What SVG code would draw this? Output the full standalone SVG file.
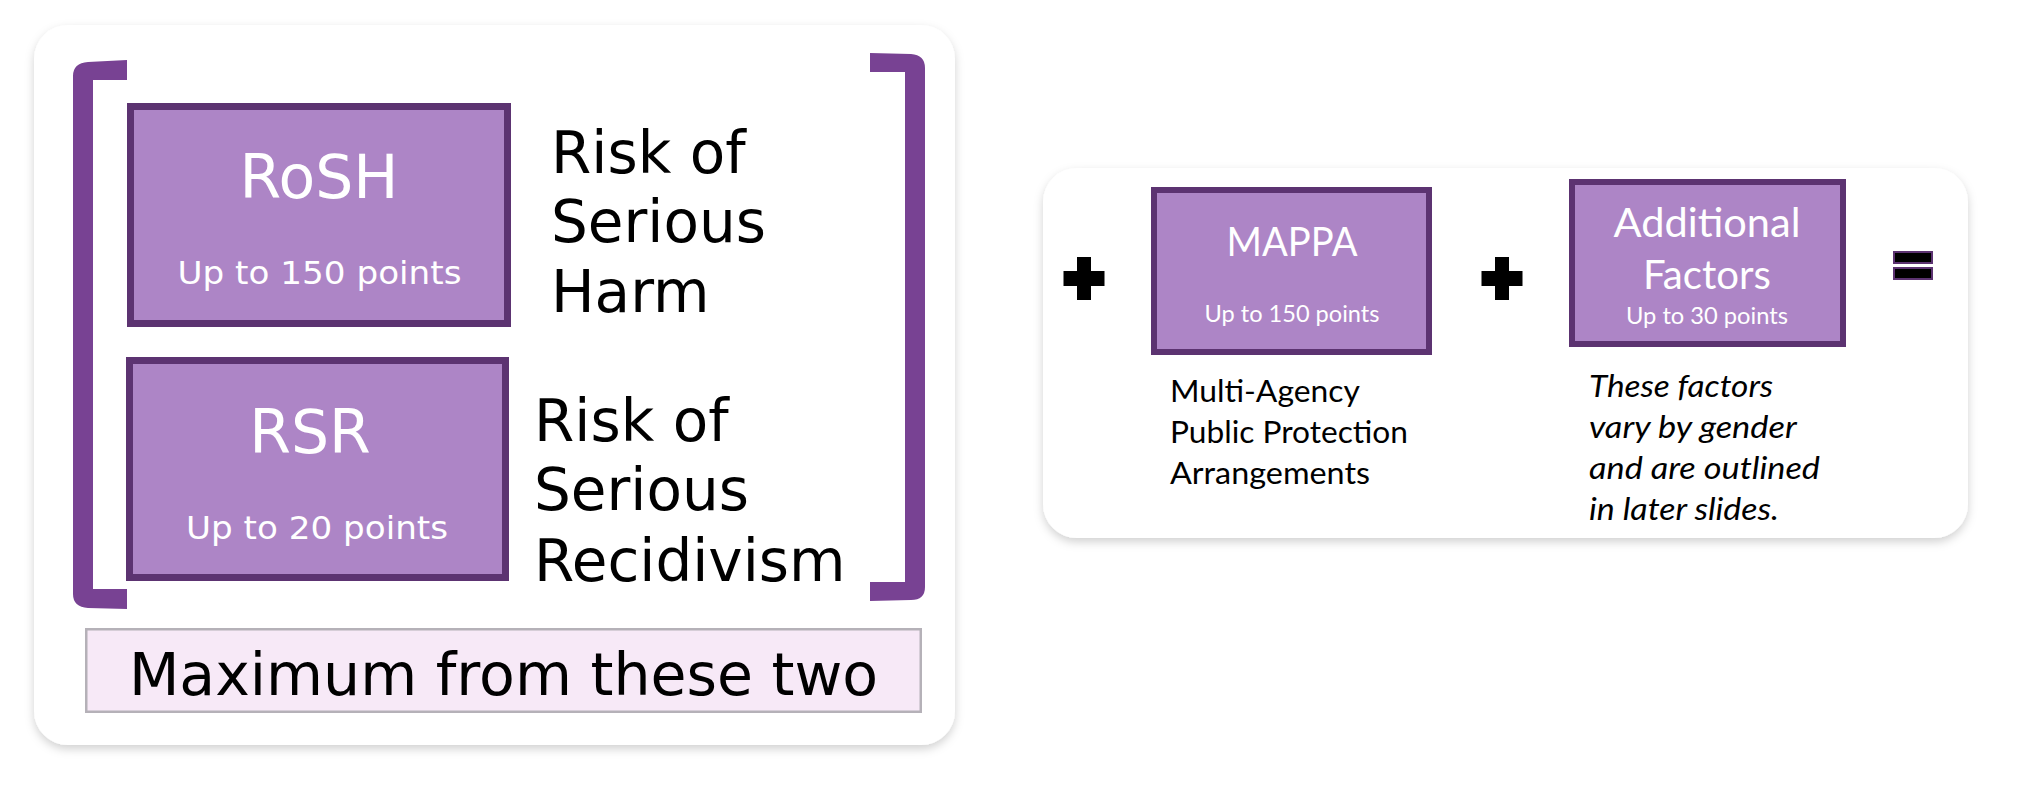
<svg xmlns="http://www.w3.org/2000/svg" width="2038" height="786" viewBox="0 0 2038 786">
  <defs>
    <filter id="cardShadow" x="-5%" y="-5%" width="110%" height="115%">
      <feDropShadow dx="0" dy="4" stdDeviation="5" flood-color="#000" flood-opacity="0.18"/>
    </filter>
    <path id="plus" d="M-20.5,-7.5 H-7 V-21.5 H7 V-7.5 H20.5 V7.5 H7 V21.5 H-7 V7.5 H-20.5 Z"/>
    <style>
      .card { fill: #ffffff; filter: url(#cardShadow); }
      .score { fill: #ad85c6; stroke: #5c3371; }
      .bracket { fill: #784293; }
      .maxbox { fill: #f7e9f7; stroke: #b5b1b8; stroke-width: 2.5; }
      .dv { font-family: "DejaVu Sans", Verdana, sans-serif; }
      .cal { font-family: Lato, "Liberation Sans", sans-serif; }
      .white { fill: #ffffff; }
      .black { fill: #000000; }
      .op { fill: #000000; }
    </style>
  </defs>

  <rect width="2038" height="786" fill="#ffffff"/>

  <!-- left panel: RoSH / RSR choice -->
  <g id="panel-left">
    <rect class="card" x="34" y="25" width="921" height="720" rx="34"/>
    <path class="bracket" d="M127,60 L127,80 L93,80 L93,589 L127,589 L127,609 L88,608 Q73,607 73,594 L73,76 Q73,63 88,62 Z"/>
    <path class="bracket" d="M870,53 L911,54 Q925,55 925,68 L925,587 Q925,600 911,600 L870,601 L870,582 L905,582 L905,72 L870,72 Z"/>
  </g>

  <g id="node-rosh">
    <rect class="score" x="130.5" y="106.5" width="377" height="217" stroke-width="7"/>
    <text class="dv white" x="319" y="198" font-size="60" text-anchor="middle">RoSH</text>
    <text class="dv white" x="319.5" y="284" font-size="32" text-anchor="middle" textLength="284" lengthAdjust="spacingAndGlyphs">Up to 150 points</text>
    <text class="dv black" font-size="58">
      <tspan x="551" y="173">Risk of</tspan>
      <tspan x="551" y="242">Serious</tspan>
      <tspan x="551" y="312">Harm</tspan>
    </text>
  </g>

  <g id="node-rsr">
    <rect class="score" x="129.5" y="360.5" width="376" height="217" stroke-width="7"/>
    <text class="dv white" x="310" y="453" font-size="60" text-anchor="middle">RSR</text>
    <text class="dv white" x="317" y="539" font-size="32" text-anchor="middle" textLength="262" lengthAdjust="spacingAndGlyphs">Up to 20 points</text>
    <text class="dv black" font-size="58">
      <tspan x="534" y="441">Risk of</tspan>
      <tspan x="534" y="510">Serious</tspan>
      <tspan x="534" y="581">Recidivism</tspan>
    </text>
  </g>

  <g id="node-maximum">
    <rect class="maxbox" x="86.25" y="629.25" width="834.5" height="82.5"/>
    <text class="dv black" x="503.5" y="695" font-size="58.5" text-anchor="middle">Maximum from these two</text>
  </g>

  <!-- right panel: additions -->
  <g id="panel-right">
    <rect class="card" x="1043" y="168" width="925" height="370" rx="34"/>
  </g>

  <g id="node-mappa">
    <rect class="score" x="1154" y="190" width="275" height="162" stroke-width="6"/>
    <text class="cal white" x="1292" y="256" font-size="41" text-anchor="middle" textLength="131" lengthAdjust="spacingAndGlyphs">MAPPA</text>
    <text class="cal white" x="1292" y="321.5" font-size="23.5" text-anchor="middle" textLength="175" lengthAdjust="spacingAndGlyphs">Up to 150 points</text>
    <text class="cal black" font-size="30.5">
      <tspan x="1170" y="401.5" textLength="189" lengthAdjust="spacingAndGlyphs">Multi-Agency</tspan>
      <tspan x="1170" y="443" textLength="238" lengthAdjust="spacingAndGlyphs">Public Protection</tspan>
      <tspan x="1170" y="483.5" textLength="200" lengthAdjust="spacingAndGlyphs">Arrangements</tspan>
    </text>
  </g>

  <g id="node-additional">
    <rect class="score" x="1572" y="182" width="271" height="162" stroke-width="6"/>
    <text class="cal white" x="1707" y="236.5" font-size="41" text-anchor="middle" textLength="187" lengthAdjust="spacingAndGlyphs">Additional</text>
    <text class="cal white" x="1707" y="288.5" font-size="41" text-anchor="middle" textLength="128" lengthAdjust="spacingAndGlyphs">Factors</text>
    <text class="cal white" x="1707" y="324" font-size="23.5" text-anchor="middle" textLength="162" lengthAdjust="spacingAndGlyphs">Up to 30 points</text>
    <text class="cal black" font-size="30.5" font-style="italic">
      <tspan x="1589" y="397" textLength="184" lengthAdjust="spacingAndGlyphs">These factors</tspan>
      <tspan x="1589" y="438" textLength="207" lengthAdjust="spacingAndGlyphs">vary by gender</tspan>
      <tspan x="1589" y="479" textLength="231" lengthAdjust="spacingAndGlyphs">and are outlined</tspan>
      <tspan x="1589" y="520" textLength="190" lengthAdjust="spacingAndGlyphs">in later slides.</tspan>
    </text>
  </g>

  <!-- operators between the scores -->
  <g id="connectors">
    <use href="#plus" class="op" x="1084" y="278.5"/>
    <use href="#plus" class="op" x="1502" y="278.5"/>
    <g id="equals" fill="#000" stroke="#5c3371" stroke-width="2">
      <rect x="1894" y="252" width="38" height="11"/>
      <rect x="1894" y="268" width="38" height="11"/>
    </g>
  </g>
</svg>
